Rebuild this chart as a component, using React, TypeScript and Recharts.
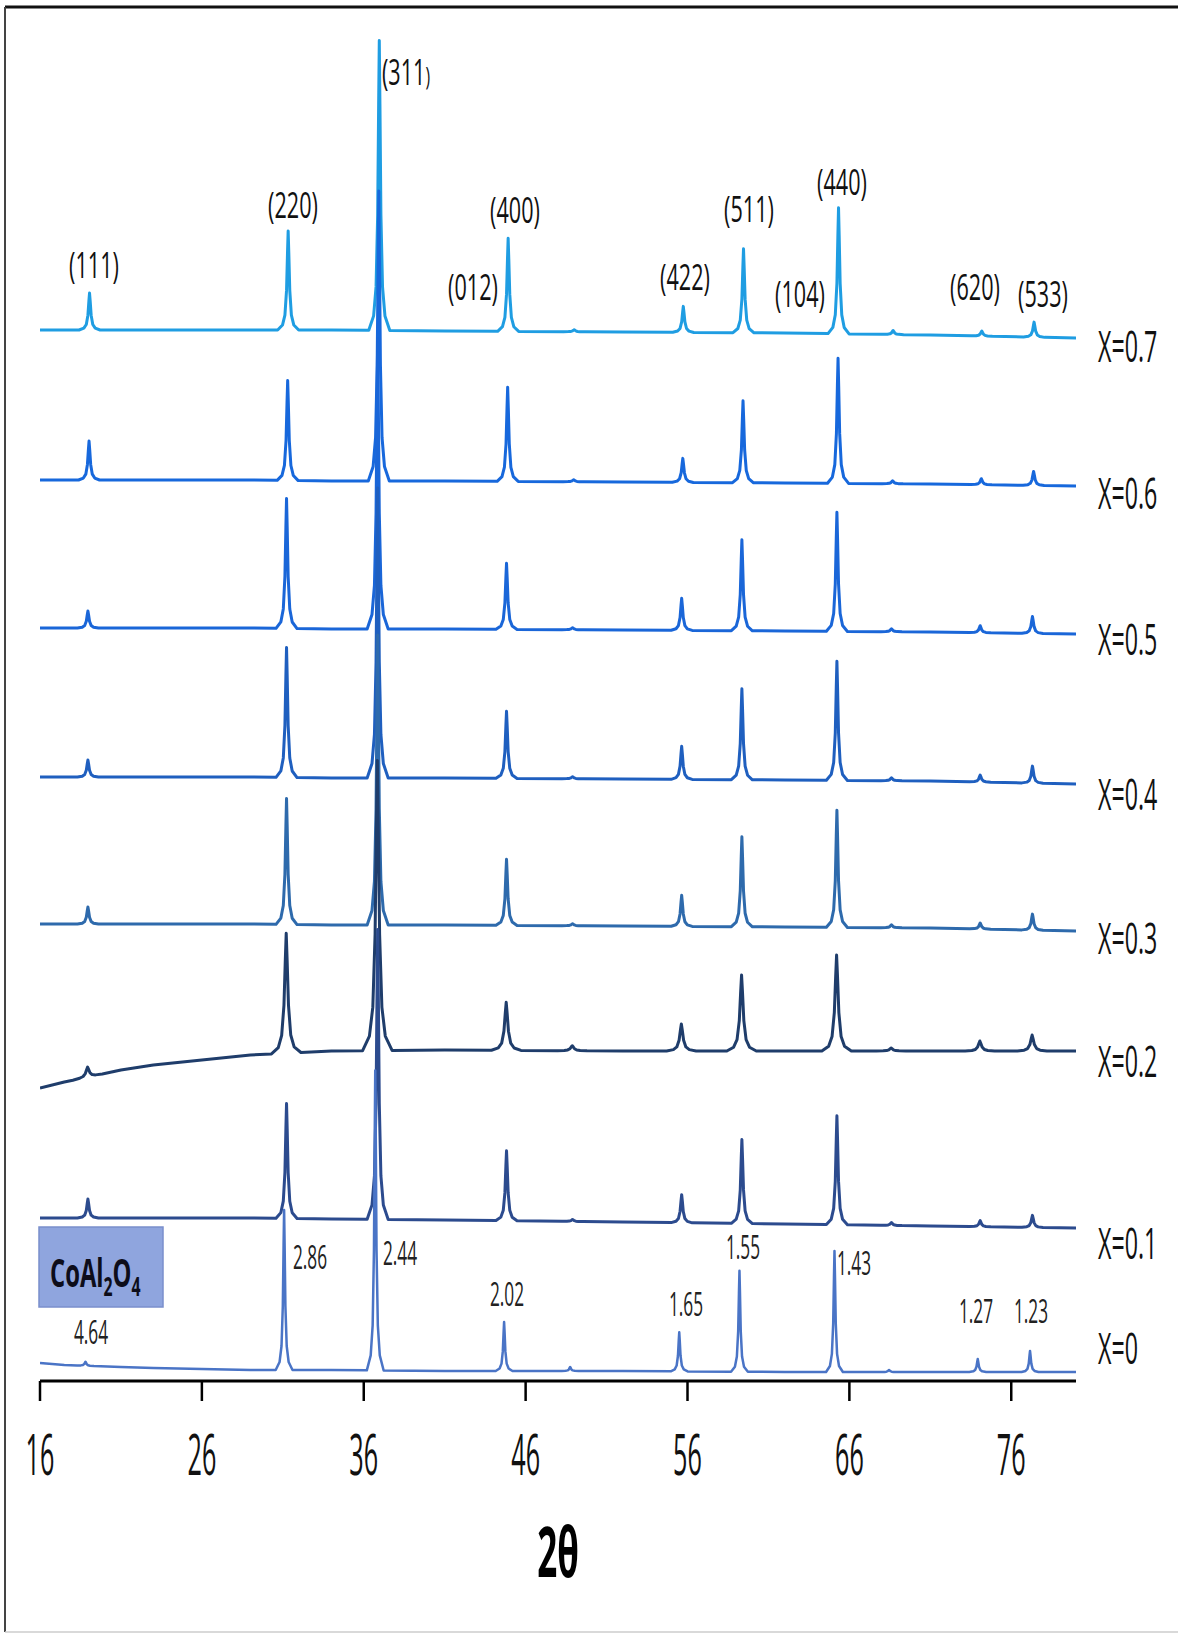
import React from 'react';
import { LineChart, Line, XAxis, YAxis } from 'recharts';

// 2θ axis
const X_TICKS = [16, 26, 36, 46, 56, 66, 76];
const X_DOMAIN = [16, 80];

// series, drawn from the top trace down
const SERIES_LABELS = ['X=0.7', 'X=0.6', 'X=0.5', 'X=0.4', 'X=0.3', 'X=0.2', 'X=0.1', 'X=0'];
const SERIES_COLORS = ['#1f9de2', '#1768dc', '#1a66d8', '#1f5fbf', '#2e6aac', '#1f3d6b', '#2c4b8e', '#4a74c6'];

// baseline level of each trace (stacked offset) at these 2θ knots
const BASE_X = [16, 17.5, 21, 23, 26, 29, 34, 41, 52, 62, 71, 80];
const BASE_07 = [1051, 1051, 1051, 1051, 1051, 1051, 1051, 1050, 1049, 1048, 1046, 1043];
const BASE_06 = [901, 901, 901, 901, 901, 901, 900, 900, 899, 898, 897, 895];
const BASE_05 = [753, 753, 753, 753, 753, 753, 752, 752, 751, 750, 749, 747];
const BASE_04 = [604, 604, 604, 604, 604, 604, 603, 603, 602, 601, 600, 597];
const BASE_03 = [457, 457, 457, 457, 457, 457, 456, 456, 455, 454, 453, 450];
const BASE_02 = [293, 299, 311, 316, 321, 326, 330, 331, 330, 330, 330, 330];
const BASE_01 = [163, 163, 163, 163, 163, 163, 162, 161, 159, 157, 155, 153];
const BASE_00 = [18, 16, 14, 13, 12, 11, 11, 10, 10, 9, 9, 9];

// reflections: (111) (220) (311) (400) bump (422) (511) (440) bump (620) (533)
const PEAK_POS = [19.06, 31.33, 36.96, 44.92, 49.0, 55.74, 59.46, 65.33, 68.7, 74.18, 77.41];
const PEAK_07 = [37, 99, 290, 93, 2, 26, 84, 126, 4, 5, 15];
const PEAK_06 = [39, 100, 290, 94, 2, 24, 82, 125, 3, 6, 14];
const PEAK_05 = [17, 130, 290, 66, 2, 32, 91, 119, 3, 7, 17];
const PEAK_04 = [17, 130, 290, 67, 2, 33, 91, 119, 3, 7, 17];
const PEAK_03 = [17, 126, 290, 66, 2, 31, 90, 117, 3, 6, 16];
const PEAK_02 = [10, 120, 290, 48, 5, 27, 76, 96, 3, 10, 16];
const PEAK_01 = [19, 115, 290, 70, 2, 28, 84, 109, 3, 6, 12];
const PEAK_00 = [4, 160, 300, 49, 4, 39, 101, 121, 2, 13, 21];
const PEAK_SHIFT = [0, -0.03, -0.1, -0.1, -0.1, -0.12, -0.1, -0.25];
const PEAK_WIDTH = [1, 1, 1, 1, 1, 1.4, 1, 0.8];

const PROFILE_DX = [-0.65, -0.35, -0.2, -0.1, -0.04, 0, 0.04, 0.1, 0.2, 0.35, 0.65];
const PROFILE_F = [0, 0.05, 0.15, 0.4, 0.78, 1, 0.78, 0.4, 0.15, 0.05, 0];

const BASES = [BASE_07, BASE_06, BASE_05, BASE_04, BASE_03, BASE_02, BASE_01, BASE_00];
const PEAKS = [PEAK_07, PEAK_06, PEAK_05, PEAK_04, PEAK_03, PEAK_02, PEAK_01, PEAK_00];

// annotations
const HKL_LABELS: [string, number, number][] = [
  ['(111)', 94, 278], ['(220)', 293, 218], ['(311)', 406, 85], ['(012)', 473, 300],
  ['(400)', 515, 223], ['(422)', 685, 290], ['(511)', 749, 222], ['(104)', 800, 307],
  ['(440)', 842, 195], ['(620)', 975, 300], ['(533)', 1043, 307],
];
const D_LABELS: [string, number, number][] = [
  ['4.64', 91, 1344], ['2.86', 310, 1269], ['2.44', 400, 1265], ['2.02', 507, 1306],
  ['1.65', 686, 1316], ['1.55', 743, 1259], ['1.43', 854, 1275], ['1.27', 976, 1323], ['1.23', 1031, 1323],
];
const SERIES_LABEL_Y = [362, 509, 655, 810, 954, 1077, 1259, 1364];

const W = 1178;
const H = 1634;
const FONT = "'Open Sans', 'Noto Sans', sans-serif";

function baselineAt(base: number[], x: number) {
  for (let i = 0; i < BASE_X.length - 1; i++) {
    if (x >= BASE_X[i] && x <= BASE_X[i + 1]) {
      const t = (x - BASE_X[i]) / (BASE_X[i + 1] - BASE_X[i]);
      return base[i] + t * (base[i + 1] - base[i]);
    }
  }
  return base[base.length - 1];
}

function buildSeries(s: number) {
  const base = BASES[s];
  const pts = BASE_X.map((x, i) => ({ x, y: base[i] }));
  PEAK_POS.forEach((p, k) => {
    const c = p + PEAK_SHIFT[s];
    PROFILE_DX.forEach((dx, j) => {
      const x = c + dx * PEAK_WIDTH[s];
      pts.push({ x, y: baselineAt(base, x) + PROFILE_F[j] * PEAKS[s][k] });
    });
  });
  return pts.sort((a, b) => a.x - b.x);
}

function SText({ x, y, size, sx, anchor = 'middle', weight = 400, fill = '#111', children }: any) {
  return (
    <text
      transform={`translate(${x} ${y}) scale(${sx} 1)`}
      textAnchor={anchor}
      fontSize={size}
      fontFamily={FONT}
      fontWeight={weight}
      fill={fill}
    >
      {children}
    </text>
  );
}

const XTick = (props: any) => (
  <SText x={props.x} y={1475} size={56} sx={0.45}>
    {props.payload.value}
  </SText>
);

export default function App() {
  const series = SERIES_LABELS.map((_, i) => buildSeries(i));

  return (
    <div style={{ position: 'absolute', left: 0, top: 0, width: W, height: H, background: '#fff' }}>
      <LineChart width={W} height={H} margin={{ top: 0, right: 102, left: 40, bottom: 153 }}>
        <XAxis
          type="number"
          dataKey="x"
          domain={X_DOMAIN}
          ticks={X_TICKS}
          allowDataOverflow
          height={100}
          axisLine={{ stroke: '#000', strokeWidth: 3 }}
          tickLine={{ stroke: '#000', strokeWidth: 2.5 }}
          tickSize={20}
          tick={<XTick />}
        />
        <YAxis type="number" domain={[0, 1381]} hide allowDataOverflow />
        {series.map((d, i) => (
          <Line
            key={SERIES_LABELS[i]}
            data={d}
            dataKey="y"
            type="linear"
            stroke={SERIES_COLORS[i]}
            strokeWidth={i === 7 ? 2.5 : 3}
            strokeLinejoin="round"
            dot={false}
            activeDot={false}
            isAnimationActive={false}
          />
        ))}
      </LineChart>

      <svg
        width={W}
        height={H}
        style={{ position: 'absolute', left: 0, top: 0, pointerEvents: 'none' }}
      >
        <line x1={5} y1={7} x2={W} y2={7} stroke="#111" strokeWidth={3} />
        <line x1={5} y1={7} x2={5} y2={H - 2} stroke="#444" strokeWidth={2} />
        <line x1={5} y1={H - 2} x2={W} y2={H - 2} stroke="#ccc" strokeWidth={1.5} />

        {HKL_LABELS.map(([t, x, y]) =>
          t === '(311)' ? (
            <SText key={t} x={x} y={y} size={36} sx={0.6}>
              (311<tspan fontSize={26}>)</tspan>
            </SText>
          ) : (
            <SText key={t} x={x} y={y} size={36} sx={0.6}>
              {t}
            </SText>
          )
        )}

        {D_LABELS.map(([t, x, y]) => (
          <SText key={t} x={x} y={y} size={32} sx={0.54} fill="#222">
            {t}
          </SText>
        ))}

        {SERIES_LABELS.map((t, i) => (
          <SText key={t} x={1098} y={SERIES_LABEL_Y[i]} size={43} sx={0.54} anchor="start">
            {t}
          </SText>
        ))}

        <rect x={39} y={1227} width={124} height={80} fill="#8fa5de" stroke="#7a8fcc" strokeWidth={1.5} />
        <SText x={50} y={1287} size={39} sx={0.61} anchor="start" weight={700} fill="#0d0d1a">
          CoAl
          <tspan fontSize={26} dy={9}>2</tspan>
          <tspan dy={-9}>O</tspan>
          <tspan fontSize={26} dy={9}>4</tspan>
        </SText>

        <SText x={558} y={1577} size={70} sx={0.5} weight={700} fill="#000">
          2θ
        </SText>
      </svg>
    </div>
  );
}
